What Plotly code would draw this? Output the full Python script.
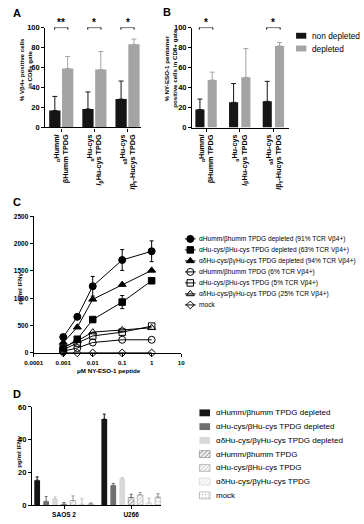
import plotly.graph_objects as go

W, H = 364, 524
FONT = "Liberation Sans, Arial, sans-serif"

# ---------------- Panel A / B data ----------------
ab_groups = ["<sub>α</sub>Humm/<br>βHumm TPDG",
             "<sub>α</sub>Hu-cys<br>/<sub>β</sub>Hu-cys TPDG",
             "<sub>αδ</sub>Hu-cys<br>/β<sub>γ</sub>-Hucys TPDG"]
ab_series = ["non depleted", "depleted"]
a_nondep = [16.8, 18.4, 28.3]
a_nondep_err = [14.2, 17.1, 18.1]
a_dep = [58.9, 57.9, 83.2]
a_dep_err = [12.1, 18.1, 5.3]
a_sig = ["**", "*", "*"]
b_nondep = [18.0, 25.2, 26.2]
b_nondep_err = [10.5, 18.8, 20.0]
b_dep = [47.5, 50.2, 81.6]
b_dep_err = [7.9, 28.8, 3.4]
b_sig = ["*", "", "*"]

# ---------------- Panel C data ----------------
c_conc = [0.001, 0.003, 0.01, 0.1, 1]
c_xticks = [0.0001, 0.001, 0.01, 0.1, 1, 10]
c_xticktext = ["0.0001", "0.001", "0.01", "0.1", "1", "10"]
c_names = ["αHumm/βhumm TPDG depleted (91% TCR Vβ4+)",
           "αHu-cys/βHu-cys TPDG depleted (63% TCR Vβ4+)",
           "αδHu-cys/βγHu-cys TPDG depleted (94% TCR Vβ4+)",
           "αHumm/βhumm TPDG (6% TCR Vβ4+)",
           "αHu-cys/βHu-cys TPDG (5% TCR Vβ4+)",
           "αδHu-cys/βγHu-cys TPDG (25% TCR Vβ4+)",
           "mock"]
c_humm_dep = [290, 660, 1220, 1700, 1860]
c_humm_dep_err = [0, 0, 180, 190, 190]
c_hucys_dep = [80, 250, 610, 930, 1320]
c_hucys_dep_err = [0, 0, 0, 120, 40]
c_adhucys_dep = [190, 470, 980, 1250, 1510]
c_adhucys_dep_err = [0, 0, 0, 0, 0]
c_humm = [30, 90, 190, 240, 240]
c_hucys = [60, 180, 310, 380, 490]
c_adhucys = [100, 220, 380, 420, 460]
c_mock = [0, 0, 0, 0, 0]

# ---------------- Panel D data ----------------
d_cells = ["SAOS 2", "U266"]
d_names = ["αHumm/βhumm TPDG depleted",
           "αHu-cys/βHu-cys TPDG depleted",
           "αδHu-cys/βγHu-cys TPDG depleted",
           "αHumm/βhumm TPDG",
           "αHu-cys/βHu-cys TPDG",
           "αδHu-cys/βγHu-cys TPDG",
           "mock"]
d_humm_dep = [15.3, 52.6]
d_humm_dep_err = [2.0, 3.0]
d_hucys_dep = [2.5, 12.2]
d_hucys_dep_err = [2.8, 1.1]
d_adhucys_dep = [3.9, 16.1]
d_adhucys_dep_err = [1.2, 0.8]
d_humm = [0.6, 4.7]
d_humm_err = [1.0, 2.0]
d_hucys = [2.9, 6.3]
d_hucys_err = [2.8, 1.5]
d_adhucys = [0.6, 1.4]
d_adhucys_err = [3.3, 2.9]
d_mock = [0.8, 4.9]
d_mock_err = [0.6, 2.1]

# ---------------- helpers ----------------
def dx(a, b):
    return [a / W, b / W]

def dy(top, bottom):
    return [1 - bottom / H, 1 - top / H]

def axis(domain, anchor, **kw):
    d = dict(domain=domain, anchor=anchor, showgrid=False, zeroline=False,
             showline=True, linecolor="black", linewidth=1.4, ticks="outside",
             ticklen=3, tickwidth=1, tickcolor="black", fixedrange=True)
    d.update(kw)
    return d

def bold(size):
    return dict(family=FONT, size=size, color="black", weight="bold")

BLACK = "#151515"
GREY = "#a4a4a4"

fig = go.Figure()
annotations = []
shapes = []

def ann(text, x, y, size, weight="normal", xanchor="center", yanchor="middle", angle=0,
        xref="x5", yref="y5"):
    annotations.append(dict(text=text, x=x, y=y, xref=xref, yref=yref,
                            showarrow=False, xanchor=xanchor, yanchor=yanchor,
                            textangle=angle,
                            font=dict(family=FONT, size=size, color="black", weight=weight)))

# ---------------- Panels A and B ----------------
idx = list(range(len(ab_groups)))
for (xa, ya, nd, nde, dp, dpe, sig, wid, offs) in [
        ("x", "y", a_nondep, a_nondep_err, a_dep, a_dep_err, a_sig, 0.34, (-0.364, 0.024)),
        ("x2", "y2", b_nondep, b_nondep_err, b_dep, b_dep_err, b_sig, 0.27, (-0.32, 0.045))]:
    for vals, errs, col, off, nm in [(nd, nde, BLACK, offs[0], ab_series[0]),
                                     (dp, dpe, GREY, offs[1], ab_series[1])]:
        fig.add_trace(go.Bar(x=idx, y=vals, name=nm, xaxis=xa, yaxis=ya,
                             width=wid, offset=off, marker=dict(color=col, line=dict(width=0)),
                             error_y=dict(type="data", array=errs, arrayminus=[0] * len(errs),
                                          symmetric=False, color=col, thickness=1, width=2.5),
                             showlegend=False))
    for i, s in enumerate(sig):
        if not s:
            continue
        c = i + (offs[0] + offs[1] + wid) / 2
        shapes.append(dict(type="line", xref=xa, yref=ya, x0=c - 0.2, x1=c + 0.2, y0=100, y1=100,
                           line=dict(color="black", width=1)))
        for xe in (c - 0.2, c + 0.2):
            shapes.append(dict(type="line", xref=xa, yref=ya, x0=xe, x1=xe, y0=98, y1=102,
                               line=dict(color="black", width=1)))
        ann(s, c, 18.5, 10, "bold", xref=xa, yref="y5")

# ---------------- Panel C ----------------
c_series = [c_humm_dep, c_hucys_dep, c_adhucys_dep, c_humm, c_hucys, c_adhucys, c_mock]
c_errs = [c_humm_dep_err, c_hucys_dep_err, c_adhucys_dep_err, None, None, None, None]
c_symbols = ["circle", "square", "triangle-up", "circle-open", "square-open",
             "triangle-up-open", "diamond-open"]
c_sizes = [7, 6.5, 7, 7, 6.5, 7, 6]
for vals, errs, sym, sz, nm in zip(c_series, c_errs, c_symbols, c_sizes, c_names):
    fig.add_trace(go.Scatter(x=c_conc, y=vals, name=nm, xaxis="x3", yaxis="y3",
                             mode="lines+markers", cliponaxis=False,
                             line=dict(color="black", width=1),
                             marker=dict(symbol=sym, size=sz, color="black",
                                         line=dict(color="black", width=1)),
                             error_y=(dict(type="data", array=errs, color="black",
                                           thickness=1, width=2) if errs else None),
                             showlegend=False))

# ---------------- Panel D ----------------
d_series = [d_humm_dep, d_hucys_dep, d_adhucys_dep, d_humm, d_hucys, d_adhucys, d_mock]
d_errs = [d_humm_dep_err, d_hucys_dep_err, d_adhucys_dep_err, d_humm_err, d_hucys_err,
          d_adhucys_err, d_mock_err]
d_styles = [
    dict(color="#151515", line=dict(width=0)),
    dict(color="#6f6f6f", line=dict(width=0)),
    dict(color="#d9d9d9", line=dict(width=0)),
    dict(color="white", line=dict(color="#777", width=0.6),
         pattern=dict(shape="/", fgcolor="#555555", bgcolor="white", size=3, solidity=0.45)),
    dict(color="white", line=dict(color="#999", width=0.6),
         pattern=dict(shape="/", fgcolor="#9a9a9a", bgcolor="white", size=3, solidity=0.4)),
    dict(color="white", line=dict(color="#ccc", width=0.6),
         pattern=dict(shape="/", fgcolor="#d0d0d0", bgcolor="white", size=3, solidity=0.4)),
    dict(color="white", line=dict(color="#999", width=0.6),
         pattern=dict(shape=".", fgcolor="#888888", bgcolor="white", size=3, solidity=0.25)),
]
d_errcol = ["#151515", "#6f6f6f", "#c8c8c8", "#666", "#999", "#bbb", "#888"]
period, bw = 0.1334, 0.086
for k, (vals, errs, st, ec, nm) in enumerate(zip(d_series, d_errs, d_styles, d_errcol, d_names)):
    fig.add_trace(go.Bar(x=[0, 1], y=vals, name=nm, xaxis="x4", yaxis="y4",
                         width=bw, offset=(k - 3) * period - bw / 2, marker=st,
                         error_y=dict(type="data", array=errs, arrayminus=[0, 0], symmetric=False,
                                      color=ec, thickness=1, width=1.5),
                         showlegend=False))

# ---------------- Legends (drawn in pixel space on overlay axis) ----------------
for i, (nm, col) in enumerate(zip(ab_series, [BLACK, GREY])):
    yc = 32.3 + 13 * i
    shapes.append(dict(type="rect", xref="x5", yref="y5", x0=297.7, x1=308.3,
                       y0=yc - 3, y1=yc + 3, fillcolor=col, line=dict(width=0)))
    ann(nm, 312, yc, 8.3, xanchor="left")

for i, (nm, sym, sz) in enumerate(zip(c_names, c_symbols, c_sizes)):
    yc = 239 + 11.2 * i
    fig.add_trace(go.Scatter(x=[182.5, 193.5], y=[yc, yc], mode="lines", xaxis="x5", yaxis="y5",
                             line=dict(color="black", width=1), showlegend=False, hoverinfo="skip"))
    fig.add_trace(go.Scatter(x=[188], y=[yc], mode="markers", xaxis="x5", yaxis="y5",
                             marker=dict(symbol=sym, size=sz, color="black",
                                         line=dict(color="black", width=1)),
                             showlegend=False, hoverinfo="skip"))
    ann(nm, 195, yc, 6.6, xanchor="left")

for i, (nm, st) in enumerate(zip(d_names, d_styles)):
    yc = 416 + 14 * i
    fig.add_trace(go.Bar(y=[yc], x=[11], base=[197.5], orientation="h", width=7,
                         xaxis="x5", yaxis="y5", marker=st, showlegend=False, hoverinfo="skip"))
    ann(nm, 213, yc, 8, xanchor="left")

# ---------------- Titles / labels ----------------
ann("A", 2, 1, 11, "bold", "left", "top")
ann("B", 158, 0, 11, "bold", "left", "top")
ann("C", 2, 193, 11, "bold", "left", "top")
ann("D", 2, 389, 11, "bold", "left", "top")
ann("% Vβ4+ positive cells<br>in CD8+ gate", 17, 67, 6.2, "bold", angle=-90)
ann("% NY-ESO-1 pentamer<br>positive cells in CD8+ gate", 168, 66, 6.2, "bold", angle=-90)
ann("pg/ml IFNγ", 10, 290, 6.2, "bold", angle=-90)
ann("μM NY-ESO-1 peptide", 104, 373, 6.2, "bold")
ann("pg/ml IFNγ", 10, 456, 6.2, "bold", angle=-90)

fig.update_layout(
    width=W, height=H, margin=dict(l=0, r=0, t=0, b=0),
    paper_bgcolor="white", plot_bgcolor="rgba(0,0,0,0)",
    barmode="overlay", showlegend=False, hovermode=False,
    font=dict(family=FONT, color="black"),
    xaxis=axis(dx(37.7, 137), "y", range=[-0.48, 2.41], tickvals=idx, ticktext=ab_groups,
               tickangle=-90, tickfont=bold(7.2)),
    yaxis=axis(dy(24, 125.5), "x", range=[0, 100], dtick=20, tickfont=bold(7.5)),
    xaxis2=axis(dx(190, 290), "y2", range=[-0.414, 2.45], tickvals=idx, ticktext=ab_groups,
                tickangle=-90, tickfont=bold(7.2)),
    yaxis2=axis(dy(24, 125.7), "x2", range=[0, 100], dtick=20, tickfont=bold(7.5)),
    xaxis3=axis(dx(25.7, 178.5), "y3", type="log", range=[-4, 1], tickvals=c_xticks,
                ticktext=c_xticktext, tickfont=bold(6.2), tickangle=0),
    yaxis3=axis(dy(216, 355), "x3", range=[0, 2500], dtick=500, tickfont=bold(6.5)),
    xaxis4=axis(dx(24, 158), "y4", range=[-0.475, 1.45], tickvals=[0, 1], ticktext=d_cells,
                tickfont=bold(6.5), tickangle=0),
    yaxis4=axis(dy(410, 510), "x4", range=[0, 60], dtick=20, tickfont=bold(7.5)),
    xaxis5=dict(domain=[0, 1], anchor="y5", range=[0, W], visible=False, fixedrange=True),
    yaxis5=dict(domain=[0, 1], anchor="x5", range=[H, 0], visible=False, fixedrange=True),
    annotations=annotations, shapes=shapes,
)

fig.write_html("out.html", config={"displayModeBar": False},
               post_script="document.body.style.margin='0px';document.body.style.padding='0px';")
